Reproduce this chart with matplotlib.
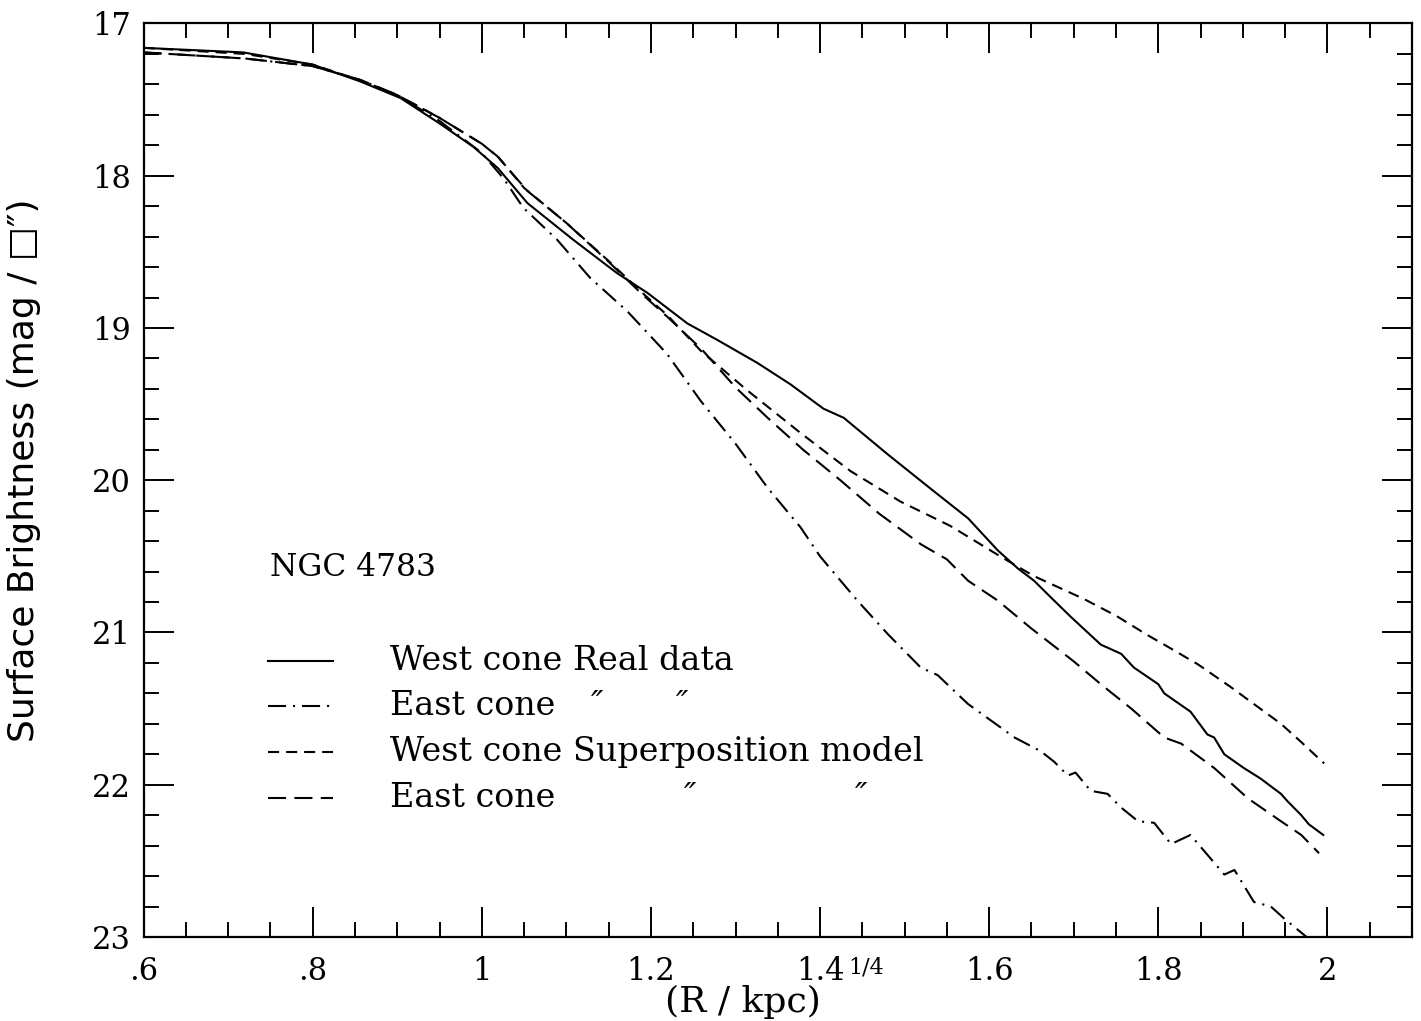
import matplotlib
matplotlib.use("Agg")
import matplotlib.pyplot as plt
from matplotlib.ticker import MultipleLocator, FuncFormatter

plt.rcParams['lines.scale_dashes'] = False

# West cone, real data
west_real_x = [0.60, 0.718, 0.80, 0.856, 0.904, 0.951, 0.99, 1.019, 1.054, 1.108, 1.16, 1.196,
               1.243, 1.279, 1.326, 1.365, 1.404, 1.428, 1.48, 1.534, 1.575, 1.61, 1.634, 1.653,
               1.673, 1.697, 1.732, 1.756, 1.771, 1.80, 1.807, 1.838, 1.858, 1.866, 1.878, 1.901,
               1.921, 1.945, 1.953, 1.969, 1.978, 1.995]
west_real_y = [17.16, 17.19, 17.27, 17.38, 17.49, 17.66, 17.81, 17.95, 18.18, 18.42, 18.64, 18.77,
               18.97, 19.08, 19.23, 19.37, 19.53, 19.59, 19.83, 20.07, 20.25, 20.46, 20.58, 20.66,
               20.77, 20.90, 21.08, 21.14, 21.23, 21.34, 21.40, 21.52, 21.67, 21.69, 21.80, 21.89,
               21.96, 22.06, 22.11, 22.20, 22.26, 22.33]

# East cone, real data
east_real_x = [0.60, 0.72, 0.80, 0.856, 0.90, 0.95, 1.0, 1.026, 1.049, 1.089, 1.128, 1.172, 1.219,
               1.259, 1.30, 1.338, 1.377, 1.40, 1.444, 1.48, 1.519, 1.539, 1.575, 1.63, 1.661,
               1.677, 1.693, 1.702, 1.72, 1.74, 1.756, 1.776, 1.795, 1.815, 1.838, 1.858, 1.878,
               1.89, 1.913, 1.933, 1.949, 1.984]
east_real_y = [17.19, 17.23, 17.28, 17.37, 17.47, 17.64, 17.85, 18.02, 18.21, 18.42, 18.67, 18.89, 19.17,
               19.48, 19.76, 20.05, 20.31, 20.50, 20.79, 21.01, 21.23, 21.28, 21.47, 21.69, 21.78,
               21.85, 21.94, 21.92, 22.04, 22.06, 22.15, 22.24, 22.25, 22.39, 22.33, 22.46, 22.59,
               22.56, 22.77, 22.80, 22.88, 23.04]

# West cone, superposition model
west_model_x = [0.60, 0.72, 0.80, 0.86, 0.90, 0.95, 1.0, 1.02, 1.05, 1.10, 1.15, 1.19, 1.22, 1.259,
                1.314, 1.377, 1.436, 1.495, 1.554, 1.613, 1.653, 1.712, 1.75, 1.788, 1.807, 1.847,
                1.886, 1.913, 1.945, 1.969, 1.996]
west_model_y = [17.16, 17.20, 17.27, 17.38, 17.47, 17.62, 17.79, 17.88, 18.08, 18.31, 18.56, 18.77, 18.92, 19.15,
                19.41, 19.69, 19.94, 20.14, 20.30, 20.50, 20.63, 20.78, 20.89, 21.02, 21.08, 21.21,
                21.36, 21.47, 21.60, 21.72, 21.86]

# East cone, superposition model
east_model_x = [0.60, 0.72, 0.80, 0.856, 0.90, 0.95, 1.0, 1.018, 1.054, 1.10, 1.149, 1.188, 1.22, 1.26,
                1.30, 1.338, 1.38, 1.424, 1.47, 1.519, 1.55, 1.575, 1.61, 1.649, 1.70, 1.732, 1.768,
                1.807, 1.827, 1.866, 1.906, 1.945, 1.969, 1.99]
east_model_y = [17.19, 17.23, 17.28, 17.37, 17.47, 17.62, 17.79, 17.87, 18.10, 18.31, 18.56, 18.77, 18.93, 19.14,
                19.39, 19.59, 19.80, 20.00, 20.22, 20.42, 20.52, 20.66, 20.79, 20.97, 21.19, 21.34, 21.50,
                21.69, 21.73, 21.89, 22.09, 22.24, 22.33, 22.45]

labels = ["West cone Real data", "East cone", "West cone Superposition model", "East cone"]

SOLID = '-'
DASHDOT = (0, (13, 5, 1.5, 5))
SHORT = (0, (8, 5))
LONG = (0, (13, 6))

fig = plt.figure(figsize=(14.21, 10.21), dpi=100)
ax = fig.add_axes([0.101, 0.0823, 0.8927, 0.8947])

lw = 1.5
ax.plot(west_real_x, west_real_y, color='black', lw=lw, linestyle=SOLID)
ax.plot(east_real_x, east_real_y, color='black', lw=lw, linestyle=DASHDOT)
ax.plot(west_model_x, west_model_y, color='black', lw=lw, linestyle=SHORT)
ax.plot(east_model_x, east_model_y, color='black', lw=lw, linestyle=LONG)

ax.set_xlim(0.6, 2.1)
ax.set_ylim(23, 17)

ax.xaxis.set_major_locator(MultipleLocator(0.2))
ax.xaxis.set_minor_locator(MultipleLocator(0.05))
ax.yaxis.set_major_locator(MultipleLocator(1))
ax.yaxis.set_minor_locator(MultipleLocator(0.2))


def xfmt(v, pos):
    s = ('%.1f' % v).rstrip('0').rstrip('.')
    if s.startswith('0.'):
        s = s[1:]
    return s


ax.xaxis.set_major_formatter(FuncFormatter(xfmt))
ax.yaxis.set_major_formatter(FuncFormatter(lambda v, p: '%d' % round(v)))

ax.tick_params(which='both', direction='in', top=True, right=True, width=1.4, colors='black')
ax.tick_params(which='major', length=21.5)
ax.tick_params(which='minor', length=11)
ax.tick_params(axis='x', which='major', pad=14)
ax.tick_params(axis='y', which='major', pad=9)
for lab in ax.get_xticklabels() + ax.get_yticklabels():
    lab.set_fontfamily('DejaVu Serif')
    lab.set_fontsize(22)
for sp in ax.spines.values():
    sp.set_linewidth(1.6)

# x label: "(R / kpc)" with a separate 1/4 exponent next to the 1.4 tick label
ax.set_xlabel('(R / kpc)', fontsize=26, family='DejaVu Serif')
ax.xaxis.set_label_coords(0.4726, -0.052)
ax.text(0.5554, -0.0339, '1/4', transform=ax.transAxes, fontsize=16,
        family='DejaVu Serif', ha='left', va='center')
ax.set_ylabel('Surface Brightness (mag / \u25a1\u2033)', fontsize=26, family='DejaVu Sans')
ax.yaxis.set_label_coords(-0.081, 0.511)

# annotation and legend
ax.text(0.0997, 0.405, 'NGC 4783', transform=ax.transAxes, fontsize=22.5,
        family='DejaVu Serif', va='center', ha='left')
styles = [SOLID, DASHDOT, SHORT, LONG]
rows = [0.3021, 0.2529, 0.2025, 0.1522]
for lab, st, yy in zip(labels, styles, rows):
    ax.plot([0.0981, 0.1494], [yy, yy], transform=ax.transAxes, color='black', lw=lw, linestyle=st)
    ax.text(0.1943, yy, lab, transform=ax.transAxes, fontsize=24, family='DejaVu Serif',
            va='center', ha='left')
# ditto marks
for xx, yy in [(0.358, rows[1]), (0.425, rows[1]), (0.431, rows[3]), (0.566, rows[3])]:
    ax.text(xx, yy, '\u2033', transform=ax.transAxes, fontsize=24, family='DejaVu Serif',
            va='center', ha='center', style='italic')

fig.savefig('out.png', dpi=100)
